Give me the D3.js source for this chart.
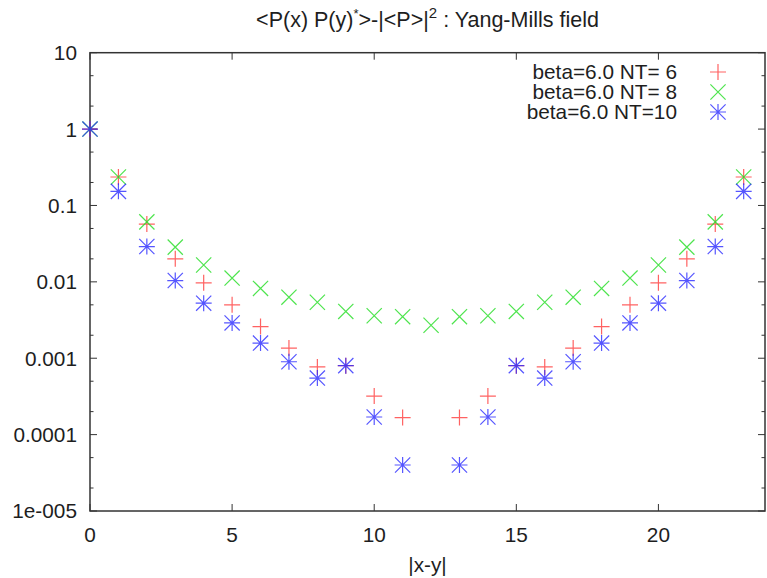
<!DOCTYPE html>
<html>
<head>
<meta charset="utf-8">
<script src="https://cdn.jsdelivr.net/npm/d3@7"></script>
<style>
  html, body { margin: 0; padding: 0; background: #fff; }
  svg { display: block; font-family: "Liberation Sans", Arial, Helvetica, sans-serif; }
</style>
</head>
<body>
<svg id="chart" width="767" height="578"></svg>
<script>
// ---- data ----
const xValues = [0,1,2,3,4,5,6,7,8,9,10,11,12,13,14,15,16,17,18,19,20,21,22,23];
const nt6  = [1, 0.236, 0.057, 0.020, 0.0097, 0.0050, 0.0026, 0.00136, 0.00077, 0.00080, 0.00032, 0.000167,
              null, 0.000167, 0.00032, 0.00080, 0.00077, 0.00136, 0.0026, 0.0050, 0.0097, 0.020, 0.057, 0.236];
const nt8  = [1, 0.236, 0.061, 0.0285, 0.0166, 0.0112, 0.0082, 0.0063, 0.0054, 0.0041, 0.0036, 0.0035,
              0.0027, 0.0035, 0.0036, 0.0041, 0.0054, 0.0063, 0.0082, 0.0112, 0.0166, 0.0285, 0.061, 0.236];
const nt10 = [1, 0.153, 0.029, 0.0104, 0.00526, 0.0029, 0.00158, 0.00090, 0.00055, 0.00080, 0.00017, 0.000040,
              null, 0.000040, 0.00017, 0.00080, 0.00055, 0.00090, 0.00158, 0.0029, 0.00526, 0.0104, 0.029, 0.153];
const seriesNames = ["beta=6.0 NT= 6", "beta=6.0 NT= 8", "beta=6.0 NT=10"];
const xTicks = [0, 5, 10, 15, 20];
const yTicks = [10, 1, 0.1, 0.01, 0.001, 0.0001, 0.00001];
const yTickLabels = ["10", "1", "0.1", "0.01", "0.001", "0.0001", "1e-005"];
const xLabel = "|x-y|";

// ---- layout ----
const svg = d3.select("#chart");
const L = 90, R = 765, T = 52.7, B = 511;
const x = d3.scaleLinear().domain([0, 23.75]).range([L, R]);
const y = d3.scaleLog().domain([1e-5, 10]).range([B, T]);
const font = 20.8;
const axisColor = "#333";
const textColor = "#1e1e1e";

// minor ticks at 2 and 5 of each decade
const minorTicks = [];
for (let e = -5; e < 1; e++) { [2, 5].forEach(m => minorTicks.push(m * Math.pow(10, e))); }

const g = svg.append("g");

// y ticks left & right
yTicks.forEach(v => {
  g.append("line").attr("x1", L).attr("x2", L + 7).attr("y1", y(v)).attr("y2", y(v))
    .attr("stroke", axisColor).attr("stroke-width", 1);
  g.append("line").attr("x1", R).attr("x2", R - 7).attr("y1", y(v)).attr("y2", y(v))
    .attr("stroke", axisColor).attr("stroke-width", 1);
});
minorTicks.forEach(v => {
  g.append("line").attr("x1", L).attr("x2", L + 3.5).attr("y1", y(v)).attr("y2", y(v))
    .attr("stroke", axisColor).attr("stroke-width", 1);
  g.append("line").attr("x1", R).attr("x2", R - 3.5).attr("y1", y(v)).attr("y2", y(v))
    .attr("stroke", axisColor).attr("stroke-width", 1);
});
// x ticks bottom & top
xTicks.forEach(v => {
  g.append("line").attr("x1", x(v)).attr("x2", x(v)).attr("y1", B).attr("y2", B - 7)
    .attr("stroke", axisColor).attr("stroke-width", 1);
  g.append("line").attr("x1", x(v)).attr("x2", x(v)).attr("y1", T).attr("y2", T + 7)
    .attr("stroke", axisColor).attr("stroke-width", 1);
});

// border
g.append("rect").attr("x", L).attr("y", T).attr("width", R - L).attr("height", B - T)
  .attr("fill", "none").attr("stroke", axisColor).attr("stroke-width", 1.5);

// tick labels
yTicks.forEach((v, i) => {
  g.append("text").attr("x", L - 13).attr("y", y(v)).attr("dy", "0.36em")
    .attr("text-anchor", "end").attr("font-size", font).attr("fill", textColor)
    .text(yTickLabels[i]);
});
xTicks.forEach(v => {
  g.append("text").attr("x", x(v)).attr("y", 542)
    .attr("text-anchor", "middle").attr("font-size", font).attr("fill", textColor)
    .text(v);
});

// axis label
g.append("text").attr("x", (L + R) / 2).attr("y", 572).attr("text-anchor", "middle")
  .attr("font-size", font).attr("fill", textColor).text(xLabel);

// title
const title = g.append("text").attr("x", (L + R) / 2).attr("y", 27).attr("text-anchor", "middle")
  .attr("font-size", 21.5).attr("fill", textColor);
title.append("tspan").text("<P(x) P(y)");
title.append("tspan").attr("dy", -9).attr("font-size", 13).text("*");
title.append("tspan").attr("dy", 9).text(">-|<P>|");
title.append("tspan").attr("dy", -9).attr("font-size", 15).text("2");
title.append("tspan").attr("dy", 9).text(" : Yang-Mills field");

// markers
const S = 8;
function plus(cx, cy) { return `M${cx - S},${cy}H${cx + S}M${cx},${cy - S}V${cy + S}`; }
function cross(cx, cy) { const s = S * 0.95; return `M${cx - s},${cy - s}L${cx + s},${cy + s}M${cx - s},${cy + s}L${cx + s},${cy - s}`; }
function star(cx, cy) { return plus(cx, cy) + cross(cx, cy); }

const series = [
  { values: nt6, color: "#ff3b3b", shape: plus },
  { values: nt8, color: "#22dd22", shape: cross },
  { values: nt10, color: "#2b2bff", shape: star }
];

series.forEach(s => {
  g.append("g").selectAll("path")
    .data(xValues.map((xv, i) => ({ x: xv, v: s.values[i] })).filter(d => d.v != null))
    .join("path")
    .attr("d", d => s.shape(x(d.x), y(d.v)))
    .attr("stroke", s.color).attr("stroke-width", 1.2).attr("fill", "none")
    .attr("stroke-opacity", 0.8);
});

// legend
series.forEach((s, i) => {
  const ly = 72 + i * 20;
  g.append("text").attr("x", 677).attr("y", ly).attr("dy", "0.36em").attr("text-anchor", "end")
    .attr("font-size", font).attr("fill", textColor).text(seriesNames[i]);
  g.append("path").attr("d", s.shape(718, ly)).attr("stroke", s.color)
    .attr("stroke-width", 1.2).attr("fill", "none").attr("stroke-opacity", 0.8);
});
</script>
</body>
</html>
